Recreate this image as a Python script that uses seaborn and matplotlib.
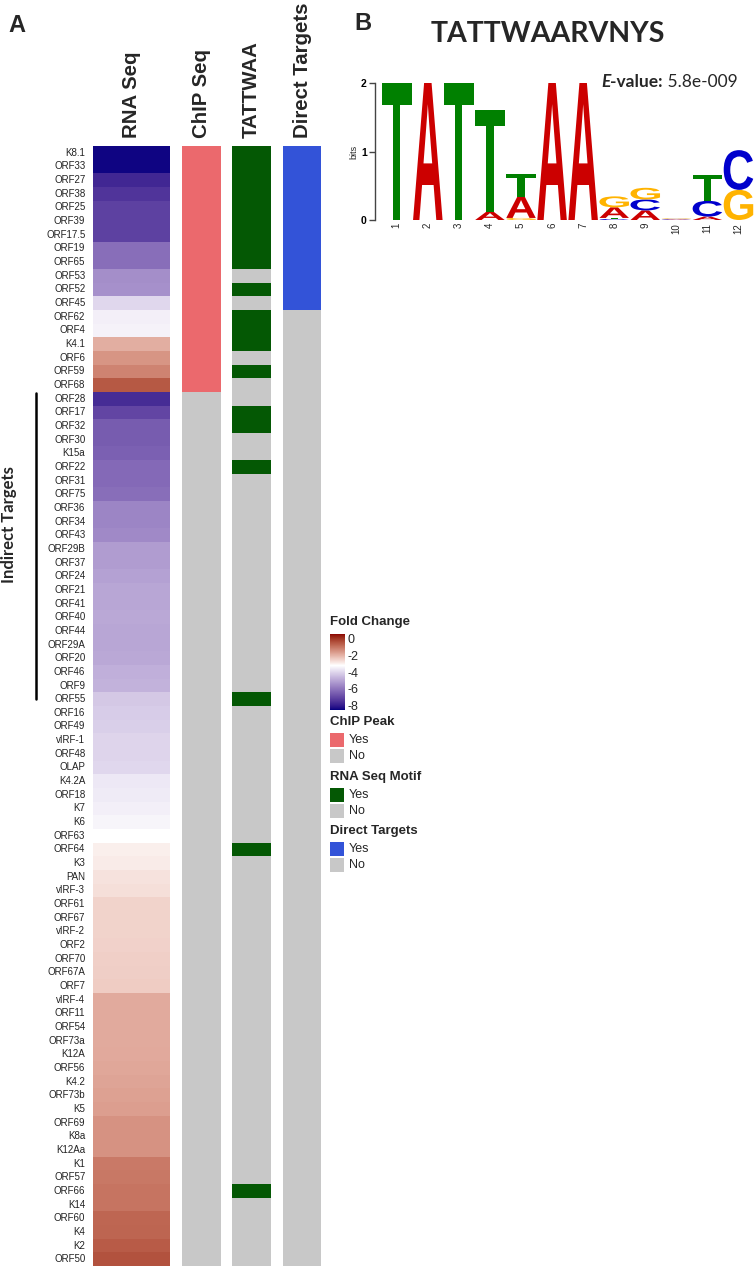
import numpy as np
import pandas as pd
import matplotlib
matplotlib.use("Agg")
import matplotlib.pyplot as plt
import seaborn as sns
from matplotlib.colors import ListedColormap, LinearSegmentedColormap, Normalize
from matplotlib.textpath import TextPath
from matplotlib.font_manager import FontProperties
from matplotlib.patches import PathPatch, Rectangle
from matplotlib.transforms import Affine2D
from matplotlib.lines import Line2D
from matplotlib.cm import ScalarMappable

# ---------------- data ----------------
genes = ["K8.1", "ORF33", "ORF27", "ORF38", "ORF25", "ORF39", "ORF17.5", "ORF19", "ORF65",
         "ORF53", "ORF52", "ORF45", "ORF62", "ORF4", "K4.1", "ORF6", "ORF59", "ORF68",
         "ORF28", "ORF17", "ORF32", "ORF30", "K15a", "ORF22", "ORF31", "ORF75", "ORF36",
         "ORF34", "ORF43", "ORF29B", "ORF37", "ORF24", "ORF21", "ORF41", "ORF40", "ORF44",
         "ORF29A", "ORF20", "ORF46", "ORF9", "ORF55", "ORF16", "ORF49", "vIRF-1", "ORF48",
         "OLAP", "K4.2A", "ORF18", "K7", "K6", "ORF63", "ORF64", "K3", "PAN", "vIRF-3",
         "ORF61", "ORF67", "vIRF-2", "ORF2", "ORF70", "ORF67A", "ORF7", "vIRF-4", "ORF11",
         "ORF54", "ORF73a", "K12A", "ORF56", "K4.2", "ORF73b", "K5", "ORF69", "K8a", "K12Aa",
         "K1", "ORF57", "ORF66", "K14", "ORF60", "K4", "K2", "ORF50"]

fold_change = [-8.5, -8.5, -7.8, -7.5, -7.2, -7.2, -7.2, -6.2, -6.2,
               -5.5, -5.45, -4.0, -3.5, -3.45, -1.9, -1.5, -1.2, -0.5,
               -7.7, -7.1, -6.6, -6.6, -6.5, -6.3, -6.3, -6.2, -5.7,
               -5.7, -5.6, -5.2, -5.2, -5.1, -5.0, -5.0, -4.95, -5.0,
               -5.0, -4.95, -4.8, -4.75, -4.3, -4.2, -4.15, -4.05, -4.05,
               -4.0, -3.65, -3.6, -3.5, -3.4, -3.2, -2.95, -2.9, -2.75, -2.7,
               -2.5, -2.5, -2.5, -2.48, -2.45, -2.42, -2.4, -1.85, -1.85,
               -1.85, -1.85, -1.83, -1.8, -1.75, -1.7, -1.65, -1.45, -1.45, -1.45,
               -1.05, -1.02, -0.95, -0.95, -0.72, -0.7, -0.55, -0.4]

chip_peak = [1, 1, 1, 1, 1, 1, 1, 1, 1, 1, 1, 1, 1, 1, 1, 1, 1, 1,
             0, 0, 0, 0, 0, 0, 0, 0, 0, 0, 0, 0, 0, 0, 0, 0, 0, 0, 0, 0, 0, 0,
             0, 0, 0, 0, 0, 0, 0, 0, 0, 0, 0, 0, 0, 0, 0, 0, 0, 0, 0, 0, 0, 0,
             0, 0, 0, 0, 0, 0, 0, 0, 0, 0, 0, 0, 0, 0, 0, 0, 0, 0, 0, 0]

motif = [1, 1, 1, 1, 1, 1, 1, 1, 1, 0, 1, 0, 1, 1, 1, 0, 1, 0,
         0, 1, 1, 0, 0, 1, 0, 0, 0, 0, 0, 0, 0, 0, 0, 0, 0, 0, 0, 0, 0, 0,
         1, 0, 0, 0, 0, 0, 0, 0, 0, 0, 0, 1, 0, 0, 0, 0, 0, 0, 0, 0, 0, 0,
         0, 0, 0, 0, 0, 0, 0, 0, 0, 0, 0, 0, 0, 0, 1, 0, 0, 0, 0, 0]

direct = [1, 1, 1, 1, 1, 1, 1, 1, 1, 1, 1, 1, 0, 0, 0, 0, 0, 0,
          0, 0, 0, 0, 0, 0, 0, 0, 0, 0, 0, 0, 0, 0, 0, 0, 0, 0, 0, 0, 0, 0,
          0, 0, 0, 0, 0, 0, 0, 0, 0, 0, 0, 0, 0, 0, 0, 0, 0, 0, 0, 0, 0, 0,
          0, 0, 0, 0, 0, 0, 0, 0, 0, 0, 0, 0, 0, 0, 0, 0, 0, 0, 0, 0]

column_titles = ["RNA Seq", "ChIP Seq", "TATTWAA", "Direct Targets"]
fc_ticks = [0, -2, -4, -6, -8]

# sequence logo (bits)
logo_positions = [1, 2, 3, 4, 5, 6, 7, 8, 9, 10, 11, 12]
logo_A = [0.0, 2.0, 0.0, 0.12, 0.31, 2.0, 2.0, 0.155, 0.14, 0.008, 0.05, 0.0]
logo_C = [0.0, 0.0, 0.0, 0.0, 0.0, 0.0, 0.0, 0.015, 0.16, 0.008, 0.23, 0.58]
logo_G = [0.0, 0.0, 0.0, 0.0, 0.03, 0.0, 0.0, 0.16, 0.17, 0.008, 0.0, 0.44]
logo_T = [2.0, 0.0, 2.0, 1.49, 0.33, 0.0, 0.0, 0.015, 0.0, 0.008, 0.38, 0.0]
logo_title = "TATTWAARVNYS"
e_value = "5.8e-009"

# ---------------- style ----------------
W, H = 754, 1268
sns.set_theme(style="white")
plt.rcParams['font.family'] = ['Liberation Sans', 'DejaVu Sans']

GRAY = "#C8C8C8"
PINK = "#EB696D"
GREEN = "#045804"
BLUE = "#3353D8"
LOGO_COL = {"A": "#CC0000", "C": "#0000CC", "G": "#FFB300", "T": "#008000"}

fig = plt.figure(figsize=(W / 100, H / 100), dpi=100)
fig.patch.set_facecolor("white")


def ax_px(x, y, w, h):
    return fig.add_axes([x / W, 1 - (y + h) / H, w / W, h / H])


# Lab-interpolated diverging colormap (navy - white - darkred), linear scale
M = np.array([[0.4124564, 0.3575761, 0.1804375],
              [0.2126729, 0.7151522, 0.0721750],
              [0.0193339, 0.1191920, 0.9503041]])
WP = np.array([0.95047, 1.0, 1.08883])


def srgb_to_lab(rgb):
    rgb = np.asarray(rgb, float)
    lin = np.where(rgb <= 0.04045, rgb / 12.92, ((rgb + 0.055) / 1.055) ** 2.4)
    t = (lin @ M.T) / WP
    f = np.where(t > (6 / 29) ** 3, np.cbrt(t), t / (3 * (6 / 29) ** 2) + 4 / 29)
    return np.stack([116 * f[..., 1] - 16, 500 * (f[..., 0] - f[..., 1]),
                     200 * (f[..., 1] - f[..., 2])], -1)


def lab_to_srgb(lab):
    fy = (lab[..., 0] + 16) / 116
    f = np.stack([fy + lab[..., 1] / 500, fy, fy - lab[..., 2] / 200], -1)
    t = np.where(f > 6 / 29, f ** 3, 3 * (6 / 29) ** 2 * (f - 4 / 29))
    lin = np.clip((t * WP) @ np.linalg.inv(M).T, 0, 1)
    return np.clip(np.where(lin <= 0.0031308, 12.92 * lin,
                            1.055 * lin ** (1 / 2.4) - 0.055), 0, 1)


FC_MIN, FC_MID, FC_MAX = -8.6, -3.2, 0.6
low = srgb_to_lab([0, 0, 128 / 255])
mid = srgb_to_lab([1, 1, 1])
high = srgb_to_lab([139 / 255, 0, 0])
s = np.linspace(0, 1, 128)[:, None]
c_mid = (FC_MID - FC_MIN) / (FC_MAX - FC_MIN)
pos = np.concatenate([np.linspace(0, c_mid, 128), np.linspace(c_mid, 1, 128)])
cols = np.vstack([lab_to_srgb(low + (mid - low) * s), lab_to_srgb(mid + (high - mid) * s)])
fc_cmap = LinearSegmentedColormap.from_list("fc", list(zip(pos, [tuple(c) for c in cols])), N=512)
fc_norm = Normalize(vmin=FC_MIN, vmax=FC_MAX)

# ---------------- panel A heatmaps ----------------
df = pd.DataFrame({"fc": fold_change, "chip": chip_peak, "motif": motif,
                   "direct": direct}, index=genes)

col_boxes = [(93, 77), (182, 39), (232, 39), (283, 38)]
top, hgt = 146, 1120
specs = [("fc", fc_cmap, fc_norm),
         ("chip", ListedColormap([GRAY, PINK]), None),
         ("motif", ListedColormap([GRAY, GREEN]), None),
         ("direct", ListedColormap([GRAY, BLUE]), None)]

for i, ((x, w), (col, cmap, norm)) in enumerate(zip(col_boxes, specs)):
    ax = ax_px(x, top, w, hgt)
    kw = dict(norm=norm) if norm is not None else dict(vmin=0, vmax=1)
    sns.heatmap(df[[col]], ax=ax, cmap=cmap, cbar=False, xticklabels=False,
                yticklabels=(genes if i == 0 else False), linewidths=0, **kw)
    ax.set_ylabel("")
    ax.set_xlabel("")
    if i == 0:
        ax.tick_params(axis="y", length=0, pad=5.5, labelsize=7, colors="#222222")
        for lab in ax.get_yticklabels():
            lab.set_rotation(0)
    fig.text((x + w / 2) / W, 1 - 138 / H, column_titles[i], rotation=90,
             ha="center", va="bottom", fontsize=14.7, fontweight="bold")

# Indirect targets bracket
fig.add_artist(Line2D([36 / W, 36 / W], [1 - 393 / H, 1 - 699 / H], color="black", lw=1.8))
fig.text(9 / W, 1 - 525 / H, "Indirect Targets", rotation=90, ha="center", va="center",
         fontsize=12, fontweight="bold", family=["Lato", "DejaVu Sans"])

fig.text(8 / W, 1 - 32 / H, "A", fontsize=17, fontweight="bold", va="baseline")
fig.text(354 / W, 1 - 30 / H, "B", fontsize=17, fontweight="bold", va="baseline")

# ---------------- legends ----------------
fig.text(330 / W, 1 - 622 / H, "Fold Change", fontsize=9.5, fontweight="bold", va="center")
cax = ax_px(330, 634, 15, 76)
sm = ScalarMappable(norm=fc_norm, cmap=fc_cmap)
cb = fig.colorbar(sm, cax=cax, ticks=fc_ticks)
cb.outline.set_visible(False)
cax.yaxis.set_ticks_position("both")
cax.tick_params(axis="y", which="both", direction="in", color="white", length=3,
                width=0.8, labelsize=9, pad=2, labelright=True, labelleft=False)
cax.set_yticklabels([str(t) for t in fc_ticks])

legend_groups = [("ChIP Peak", PINK, 722), ("RNA Seq Motif", GREEN, 777),
                 ("Direct Targets", BLUE, 831)]
for title, color, ty in legend_groups:
    fig.text(330 / W, 1 - ty / H, title, fontsize=9.5, fontweight="bold", va="center")
    for k, (lab, c) in enumerate([("Yes", color), ("No", GRAY)]):
        y0 = ty + 11 + k * 16
        fig.add_artist(Rectangle((330 / W, 1 - (y0 + 14) / H), 14 / W, 14 / H,
                                 transform=fig.transFigure, facecolor=c, edgecolor="none"))
        fig.text(349 / W, 1 - (y0 + 7) / H, lab, fontsize=9, va="center")

# ---------------- panel B sequence logo ----------------
fig.text(548 / W, 1 - 42 / H, logo_title, ha="center", va="baseline", fontsize=20.5,
         fontweight="bold", family=["Lato", "DejaVu Sans"])

axl = ax_px(375, 83, 379, 137)
axl.set_xlim(0.3, 12.5)
axl.set_ylim(0, 2)
fp = FontProperties(family="Liberation Sans", weight="bold")
for i, p in enumerate(logo_positions):
    stack = sorted([("A", logo_A[i]), ("C", logo_C[i]), ("G", logo_G[i]), ("T", logo_T[i])],
                   key=lambda t: t[1])
    y0 = 0.0
    for ch, h in stack:
        if h <= 0:
            continue
        tp = TextPath((0, 0), ch, size=1, prop=fp)
        bb = tp.get_extents()
        w = 0.95
        tr = Affine2D().translate(-bb.x0, -bb.y0).scale(w / bb.width, h / bb.height) \
            .translate(p - w / 2, y0)
        axl.add_patch(PathPatch(tr.transform_path(tp), facecolor=LOGO_COL[ch],
                                edgecolor="none"))
        y0 += h
for sp in ["top", "right", "bottom"]:
    axl.spines[sp].set_visible(False)
axl.spines["left"].set_color("#444444")
axl.spines["left"].set_linewidth(1.0)
axl.set_yticks([0, 1, 2])
axl.set_yticklabels(["0", "1", "2"], fontsize=7.5, fontweight="bold")
axl.set_xticks(logo_positions)
axl.set_xticklabels([str(p) for p in logo_positions], rotation=90, fontsize=7)
axl.tick_params(axis="y", left=True, length=4, width=1, pad=2, colors="#444444",
                labelcolor="black")
axl.tick_params(axis="x", bottom=False, length=0, pad=2)
axl.set_ylabel("bits", fontsize=6.5, labelpad=2)
axl.set_facecolor("none")

# E-value text with mixed styles
fig.canvas.draw()
rend = fig.canvas.get_renderer()
xx = 601 / W
yy = 1 - 87 / H
pieces = [("E", dict(fontweight="bold", fontstyle="italic")),
          ("-value:", dict(fontweight="bold")),
          (" " + e_value, dict())]
for txt, st in pieces:
    t = fig.text(xx, yy, txt, fontsize=12.5, va="baseline", family=["Lato", "DejaVu Sans"], **st)
    bb = t.get_window_extent(renderer=rend)
    xx += bb.width / W

fig.savefig("out.png", dpi=100, facecolor="white")
